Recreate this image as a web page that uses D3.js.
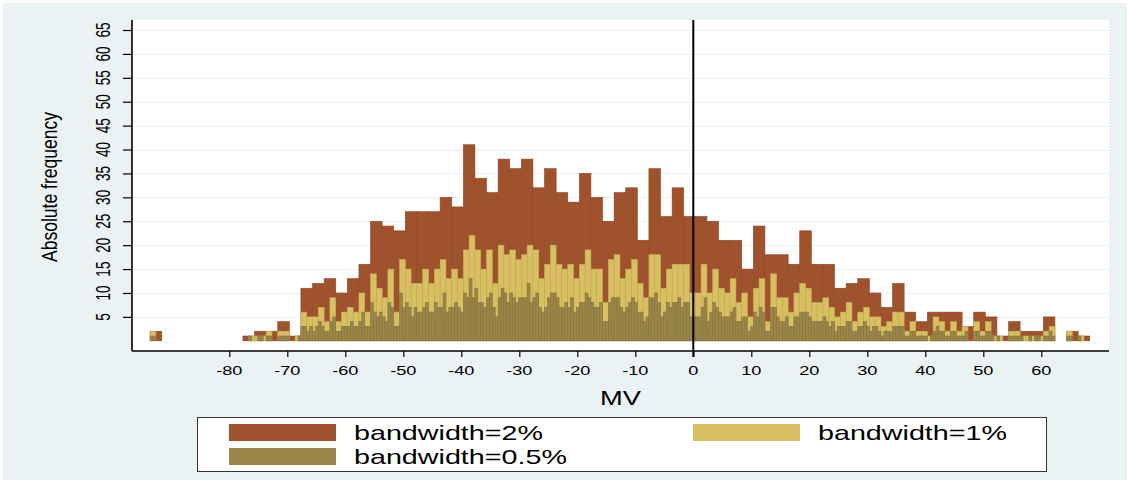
<!DOCTYPE html>
<html>
<head>
<meta charset="utf-8">
<script src="https://cdn.jsdelivr.net/npm/d3@7"></script>
<style>
  html, body { margin: 0; padding: 0; background: #ffffff; }
  svg { display: block; }
  text { font-family: "Liberation Sans", Arial, Helvetica, sans-serif; fill: #000; }
</style>
</head>
<body>
<svg id="chart" width="1132" height="483"></svg>
<script>
// Histogram of MV at three bandwidths; all bins start at the same lower edge.
const binStart = -93.65;
const widthWide = 2, widthMid = 1, widthNarrow = 0.5;

// bandwidth = 2% (bins of width 2)
const countsWide = [2,0,0,0,0,0,0,0,1,2,2,4,1,11,12,13,10,13,16,25,24,23,27,27,27,30,28,41,34,31,38,36,38,32,36,31,29,35,30,25,31,32,21,36,26,32,26,26,25,21,21,15,24,18,18,16,23,16,16,11,12,13,10,7,12,6,4,6,6,6,3,6,5,1,4,2,2,5,0,2,1];

// bandwidth = 1% (bins of width 1)
const countsMid = [
  2,0, 0,0, 0,0, 0,0, 0,0, 0,0, 0,0, 0,0, 0,1, 1,1, 2,0, 2,2, 0,1,
  6,5, 5,7, 4,9, 4,6, 7,6, 10,6, 14,11, 9,15, 6,17, 15,12, 12,15, 12,15,
  17,13, 15,13, 19,22, 19,15, 19,12, 20,18, 19,17, 18,20, 19,13, 16,20,
  16,15, 16,13, 16,19, 15,15, 8,17, 18,13, 15,17, 12,9, 18,18, 11,15,
  16,16, 16,10, 10,16, 10,15, 11,10, 13,8, 10,5, 11,13, 4,14, 9,9,
  6,10, 12,11, 8,8, 9,7, 5,6, 8,4, 6,7, 5,5, 3,4, 6,6, 2,4, 2,2, 1,5,
  4,2, 4,2, 3,0, 4,2, 4,1, 1,0, 2,2, 1,1, 1,1, 2,3, 0,0, 2,0, 1,0
];

// bandwidth = 0.5% (bins of width 0.5)
const countsNarrow = [
  1,1,0,0, 0,0,0,0, 0,0,0,0, 0,0,0,0, 0,0,0,0, 0,0,0,0, 0,0,0,0, 0,0,0,0,
  0,0,1,0, 0,1,1,0, 1,1,0,0, 1,1,1,1, 0,0,0,1,
  3,3,2,3, 2,3,4,3, 2,2,4,5, 2,2,3,3, 3,4,3,3, 4,6,3,3, 8,6,5,6, 5,4,8,7,
  3,3,10,7, 8,7,5,7, 6,6,7,8, 6,6,8,7, 7,10,6,7, 7,8,7,6, 10,9,13,9,
  11,8,8,7, 9,10,7,5, 9,11,10,8, 10,9,8,9, 9,9,12,8, 9,10,7,6, 7,9,10,10,
  9,7,7,8, 7,9,6,7, 8,8,10,9, 8,7,7,8, 4,4,8,9, 9,9,7,6, 7,8,9,8,
  6,6,4,5, 9,9,10,8, 5,6,8,7, 8,8,9,7, 8,8,5,5, 5,5,7,9, 4,6,8,7,
  6,5,5,5, 6,7,4,4, 5,5,2,3, 6,5,7,6, 2,2,7,7, 5,4,4,5, 3,3,5,5,
  6,6,6,5, 4,4,4,4, 5,4,3,4, 2,3,3,3, 4,4,2,2, 3,3,4,3, 2,3,3,2,
  1,2,2,2, 3,3,3,3, 1,1,2,2, 1,1,1,1, 0,1,2,3, 2,2,1,1, 2,2,1,1,
  1,2,0,0, 2,2,1,1, 2,2,1,0, 1,0,0,0, 1,1,1,1, 1,0,0,1, 0,1,1,0,
  1,1,2,1, 0,0,0,0, 1,1,0,0, 1,0,0,0
];

const xTicks = [-80,-70,-60,-50,-40,-30,-20,-10,0,10,20,30,40,50,60];
const yTicks = [5,10,15,20,25,30,35,40,45,50,55,60,65];
const seriesNames = ["bandwidth=2%", "bandwidth=1%", "bandwidth=0.5%"];
const seriesFill = ["#a0522d", "#d8c062", "#9a8647"];
const seriesStroke = ["#8a4a2c", "#c6ad58", "#857540"];

const svg = d3.select("#chart");
const W = 1132, H = 483;
const plot = { left: 132, right: 1109, top: 20, bottom: 351 };

// page and graph background
svg.append("rect").attr("x", 0).attr("y", 0).attr("width", W).attr("height", H).attr("fill", "#ffffff");
svg.append("rect").attr("x", 3).attr("y", 3).attr("width", W - 8).attr("height", H - 6).attr("fill", "#eaf2f3");
svg.append("rect")
  .attr("x", plot.left).attr("y", plot.top)
  .attr("width", plot.right - plot.left).attr("height", plot.bottom - plot.top)
  .attr("fill", "#ffffff");

const x = d3.scaleLinear().domain([-80, 60]).range([229.3, 1041.3]);
const y = d3.scaleLinear().domain([0, 65]).range([340.8, 30]);

// horizontal grid
svg.append("g").selectAll("line").data(yTicks).join("line")
  .attr("x1", plot.left + 1).attr("x2", plot.right)
  .attr("y1", d => Math.round(y(d)) + 0.5).attr("y2", d => Math.round(y(d)) + 0.5)
  .attr("stroke", "#e6eff1").attr("stroke-width", 1.2);

// bars, widest bins underneath
function drawBins(counts, width, idx) {
  const bins = counts.map((c, i) => ({ x0: binStart + i * width, x1: binStart + (i + 1) * width, c }))
    .filter(d => d.c > 0);
  svg.append("g").selectAll("rect").data(bins).join("rect")
    .attr("x", d => x(d.x0))
    .attr("width", d => x(d.x1) - x(d.x0))
    .attr("y", d => y(d.c))
    .attr("height", d => y(0) - y(d.c))
    .attr("fill", seriesFill[idx])
    .attr("stroke", seriesStroke[idx])
    .attr("stroke-width", 0.6);
}
drawBins(countsWide, widthWide, 0);
drawBins(countsMid, widthMid, 1);
drawBins(countsNarrow, widthNarrow, 2);

// reference line at zero
svg.append("line")
  .attr("x1", x(0)).attr("x2", x(0)).attr("y1", plot.top).attr("y2", plot.bottom + 6)
  .attr("stroke", "#000").attr("stroke-width", 2);

// y axis
const yAxis = d3.axisLeft(y).tickValues(yTicks).tickSize(9).tickFormat("");
const gy = svg.append("g").attr("transform", `translate(${plot.left},0)`).call(yAxis);
gy.select(".domain").remove();
gy.selectAll(".tick line").attr("stroke", "#000").attr("stroke-width", 1.2);
svg.append("line").attr("x1", plot.left).attr("x2", plot.left)
  .attr("y1", plot.top).attr("y2", plot.bottom).attr("stroke", "#000").attr("stroke-width", 1.6);
svg.append("g").selectAll("text").data(yTicks).join("text")
  .attr("transform", d => `translate(110,${y(d)}) rotate(-90) scale(0.68,1)`)
  .attr("text-anchor", "middle")
  .attr("font-size", 20)
  .text(d => d);

// x axis
const xAxis = d3.axisBottom(x).tickValues(xTicks).tickSize(6).tickFormat("");
const gx = svg.append("g").attr("transform", `translate(0,${plot.bottom})`).call(xAxis);
gx.select(".domain").remove();
gx.selectAll(".tick line").attr("stroke", "#000").attr("stroke-width", 1.2);
svg.append("line").attr("x1", plot.left).attr("x2", plot.right)
  .attr("y1", plot.bottom).attr("y2", plot.bottom).attr("stroke", "#000").attr("stroke-width", 1.4);
svg.append("g").selectAll("text").data(xTicks).join("text")
  .attr("transform", d => `translate(${x(d)},374.5) scale(1.42,1)`)
  .attr("text-anchor", "middle")
  .attr("font-size", 12.8)
  .text(d => d);

// axis titles
svg.append("text")
  .attr("transform", `translate(${(plot.left + plot.right) / 2},405) scale(1.3,1)`)
  .attr("text-anchor", "middle").attr("font-size", 21).text("MV");
svg.append("text")
  .attr("transform", "translate(57,187) rotate(-90)")
  .attr("text-anchor", "middle").attr("font-size", 22)
  .attr("textLength", 150).attr("lengthAdjust", "spacingAndGlyphs")
  .text("Absolute frequency");

// legend
const lg = svg.append("g");
lg.append("rect").attr("x", 197.5).attr("y", 417.5).attr("width", 849).attr("height", 54)
  .attr("fill", "#ffffff").attr("stroke", "#333").attr("stroke-width", 1);
const legendItems = [
  { i: 0, sx: 229, sy: 424, tx: 354 },
  { i: 1, sx: 693, sy: 424, tx: 818 },
  { i: 2, sx: 229, sy: 448, tx: 354 }
];
legendItems.forEach(d => {
  lg.append("rect").attr("x", d.sx).attr("y", d.sy).attr("width", 107).attr("height", 17)
    .attr("fill", seriesFill[d.i]);
  lg.append("text")
    .attr("transform", `translate(${d.tx},${d.sy + 16}) scale(1.38,1)`)
    .attr("font-size", 20.8).text(seriesNames[d.i]);
});
</script>
</body>
</html>
